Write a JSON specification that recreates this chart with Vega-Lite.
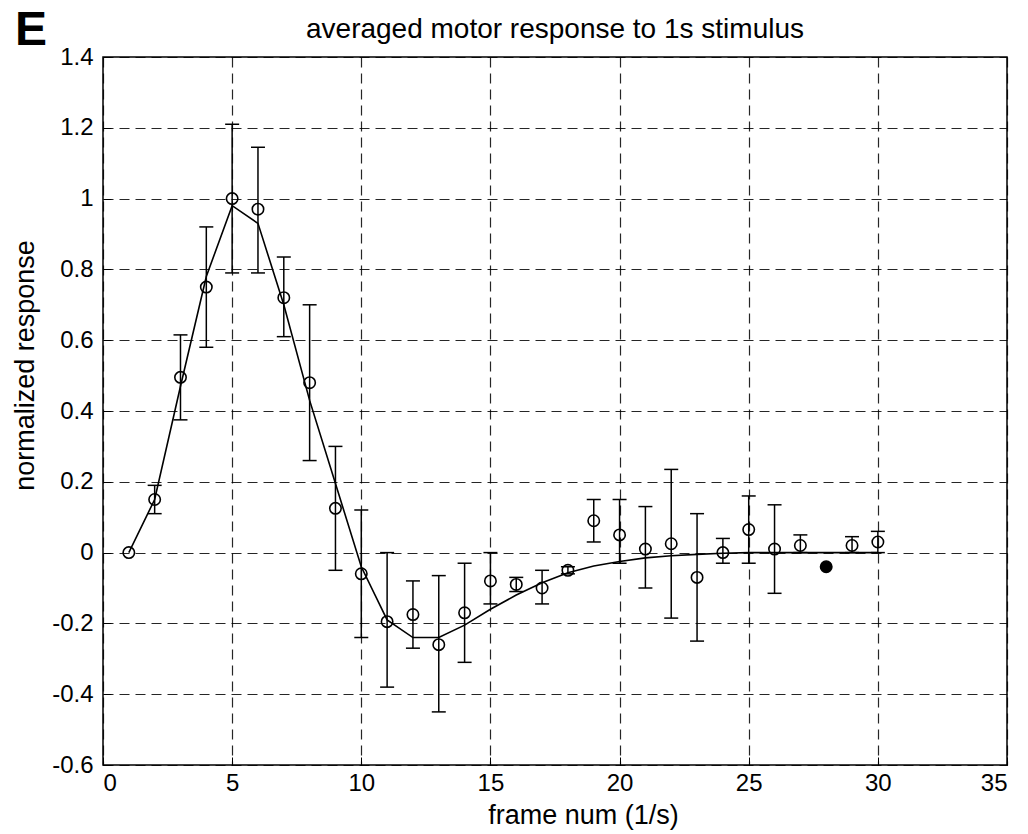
{
  "$schema": "https://vega.github.io/schema/vega-lite/v6.json",
  "autosize": "none",
  "padding": {"left": 103, "top": 57, "right": 21, "bottom": 69},
  "width": 904,
  "height": 708,
  "background": "white",
  "title": {
    "text": "averaged motor response to 1s stimulus",
    "font": "Liberation Sans",
    "fontSize": 28,
    "fontWeight": "normal",
    "color": "black",
    "anchor": "middle",
    "baseline": "bottom",
    "offset": -65
  },
  "config": {
    "view": {"stroke": "black", "strokeWidth": 1.5},
    "axis": {
      "labelFont": "Liberation Sans",
      "titleFont": "Liberation Sans",
      "labelFontSize": 24,
      "titleFontSize": 27,
      "titleFontWeight": "normal",
      "labelColor": "black",
      "titleColor": "black",
      "domain": false,
      "tickColor": "black",
      "tickSize": -8,
      "grid": true,
      "gridColor": "black",
      "gridDash": [10, 6],
      "gridWidth": 1.2,
      "gridOpacity": 0.85
    }
  },
  "datasets": {
    "obs": [
      {"frame": 1, "resp": 0.0, "lo": null, "hi": null, "filled": false},
      {"frame": 2, "resp": 0.15, "lo": 0.11, "hi": 0.19, "filled": false},
      {"frame": 3, "resp": 0.495, "lo": 0.375, "hi": 0.615, "filled": false},
      {"frame": 4, "resp": 0.75, "lo": 0.58, "hi": 0.92, "filled": false},
      {"frame": 5, "resp": 1.0, "lo": 0.79, "hi": 1.21, "filled": false},
      {"frame": 6, "resp": 0.97, "lo": 0.79, "hi": 1.145, "filled": false},
      {"frame": 7, "resp": 0.72, "lo": 0.61, "hi": 0.835, "filled": false},
      {"frame": 8, "resp": 0.48, "lo": 0.26, "hi": 0.7, "filled": false},
      {"frame": 9, "resp": 0.125, "lo": -0.05, "hi": 0.3, "filled": false},
      {"frame": 10, "resp": -0.06, "lo": -0.24, "hi": 0.12, "filled": false},
      {"frame": 11, "resp": -0.195, "lo": -0.38, "hi": 0.0, "filled": false},
      {"frame": 12, "resp": -0.175, "lo": -0.27, "hi": -0.08, "filled": false},
      {"frame": 13, "resp": -0.26, "lo": -0.45, "hi": -0.065, "filled": false},
      {"frame": 14, "resp": -0.17, "lo": -0.31, "hi": -0.03, "filled": false},
      {"frame": 15, "resp": -0.08, "lo": -0.145, "hi": 0.0, "filled": false},
      {"frame": 16, "resp": -0.09, "lo": -0.11, "hi": -0.07, "filled": false},
      {"frame": 17, "resp": -0.1, "lo": -0.145, "hi": -0.05, "filled": false},
      {"frame": 18, "resp": -0.05, "lo": -0.06, "hi": -0.04, "filled": false},
      {"frame": 19, "resp": 0.09, "lo": 0.03, "hi": 0.15, "filled": false},
      {"frame": 20, "resp": 0.05, "lo": -0.03, "hi": 0.15, "filled": false},
      {"frame": 21, "resp": 0.01, "lo": -0.1, "hi": 0.13, "filled": false},
      {"frame": 22, "resp": 0.025, "lo": -0.185, "hi": 0.235, "filled": false},
      {"frame": 23, "resp": -0.07, "lo": -0.25, "hi": 0.11, "filled": false},
      {"frame": 24, "resp": 0.0, "lo": -0.03, "hi": 0.04, "filled": false},
      {"frame": 25, "resp": 0.065, "lo": -0.03, "hi": 0.16, "filled": false},
      {"frame": 26, "resp": 0.01, "lo": -0.115, "hi": 0.135, "filled": false},
      {"frame": 27, "resp": 0.02, "lo": 0.0, "hi": 0.05, "filled": false},
      {"frame": 28, "resp": -0.04, "lo": null, "hi": null, "filled": true},
      {"frame": 29, "resp": 0.02, "lo": 0.0, "hi": 0.045, "filled": false},
      {"frame": 30, "resp": 0.03, "lo": 0.0, "hi": 0.06, "filled": false}
    ],
    "fit": [
      {"frame": 1, "resp": 0.0},
      {"frame": 2, "resp": 0.15},
      {"frame": 3, "resp": 0.47},
      {"frame": 4, "resp": 0.78},
      {"frame": 5, "resp": 0.98},
      {"frame": 6, "resp": 0.93},
      {"frame": 7, "resp": 0.7},
      {"frame": 8, "resp": 0.43},
      {"frame": 9, "resp": 0.195},
      {"frame": 10, "resp": -0.04},
      {"frame": 11, "resp": -0.19},
      {"frame": 12, "resp": -0.24},
      {"frame": 13, "resp": -0.24},
      {"frame": 14, "resp": -0.205},
      {"frame": 15, "resp": -0.16},
      {"frame": 16, "resp": -0.12},
      {"frame": 17, "resp": -0.085},
      {"frame": 18, "resp": -0.057},
      {"frame": 19, "resp": -0.038},
      {"frame": 20, "resp": -0.025},
      {"frame": 21, "resp": -0.015},
      {"frame": 22, "resp": -0.009},
      {"frame": 23, "resp": -0.005},
      {"frame": 24, "resp": -0.002},
      {"frame": 25, "resp": 0.0},
      {"frame": 26, "resp": 0.0},
      {"frame": 27, "resp": 0.0},
      {"frame": 28, "resp": 0.0},
      {"frame": 29, "resp": 0.0},
      {"frame": 30, "resp": 0.0}
    ],
    "label": [{"text": "E"}]
  },
  "layer": [
    {
      "data": {"name": "obs"},
      "transform": [{"filter": "datum.lo != null"}],
      "mark": {"type": "rule", "color": "black", "strokeWidth": 1.5},
      "encoding": {
        "x": {"field": "frame", "type": "quantitative", "scale": {"domain": [0, 35], "nice": false, "zero": false},
          "axis": {"values": [0, 5, 10, 15, 20, 25, 30, 35], "title": "frame num (1/s)", "labelPadding": 14, "titlePadding": 7, "titleX": 480}},
        "y": {"field": "lo", "type": "quantitative", "scale": {"domain": [-0.6, 1.4], "nice": false, "zero": false},
          "axis": {"values": [-0.6, -0.4, -0.2, 0, 0.2, 0.4, 0.6, 0.8, 1, 1.2, 1.4], "format": ".1~f", "labelExpr": "replace(datum.label, '−', '-')", "title": "normalized response", "labelPadding": 18, "titlePadding": 12, "titleY": 308}},
        "y2": {"field": "hi"}
      }
    },
    {
      "data": {"name": "obs"},
      "transform": [{"filter": "datum.lo != null"}],
      "mark": {"type": "tick", "orient": "horizontal", "color": "black", "size": 14, "thickness": 1.5, "opacity": 1},
      "encoding": {
        "x": {"field": "frame", "type": "quantitative"},
        "y": {"field": "lo", "type": "quantitative"}
      }
    },
    {
      "data": {"name": "obs"},
      "transform": [{"filter": "datum.hi != null"}],
      "mark": {"type": "tick", "orient": "horizontal", "color": "black", "size": 14, "thickness": 1.5, "opacity": 1},
      "encoding": {
        "x": {"field": "frame", "type": "quantitative"},
        "y": {"field": "hi", "type": "quantitative"}
      }
    },
    {
      "data": {"name": "fit"},
      "mark": {"type": "line", "color": "black", "strokeWidth": 1.6},
      "encoding": {
        "x": {"field": "frame", "type": "quantitative"},
        "y": {"field": "resp", "type": "quantitative"}
      }
    },
    {
      "data": {"name": "obs"},
      "mark": {"type": "point", "shape": "circle", "size": 130, "stroke": "black", "strokeWidth": 1.6, "opacity": 1},
      "encoding": {
        "x": {"field": "frame", "type": "quantitative"},
        "y": {"field": "resp", "type": "quantitative"},
        "fill": {"condition": {"test": "datum.filled", "value": "black"}, "value": "transparent"}
      }
    },
    {
      "data": {"name": "label"},
      "mark": {"type": "text", "font": "Liberation Sans", "fontSize": 48, "fontWeight": "bold", "color": "black", "align": "center", "baseline": "alphabetic"},
      "encoding": {
        "x": {"datum": -2.79, "type": "quantitative"},
        "y": {"datum": 1.435, "type": "quantitative"},
        "text": {"field": "text"}
      }
    }
  ]
}
